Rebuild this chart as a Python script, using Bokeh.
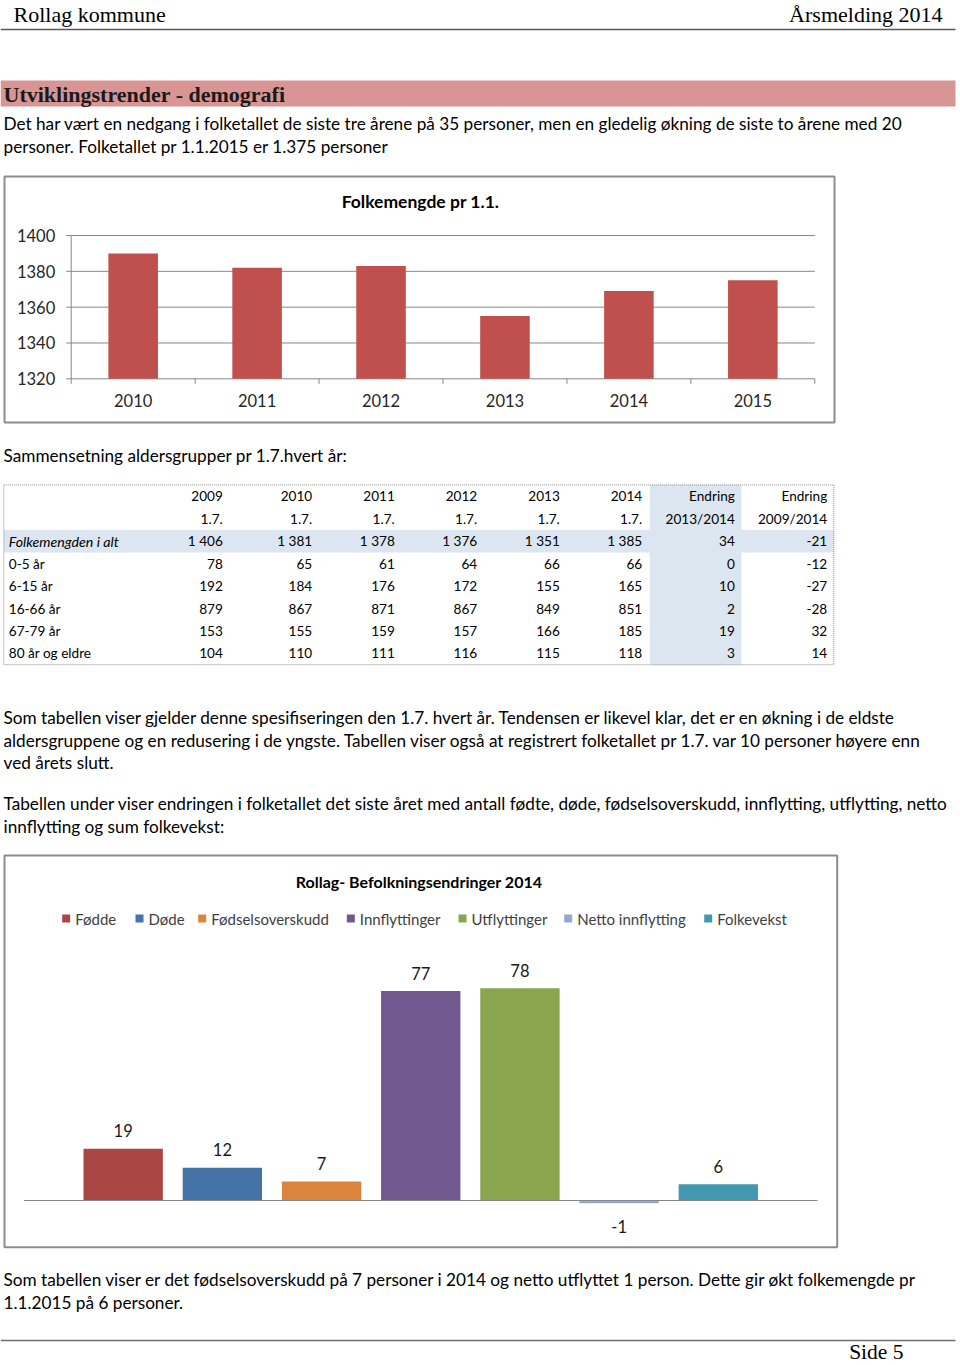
from bokeh.plotting import figure
from bokeh.models import Range1d, ColumnDataSource
from bokeh.core.properties import value
from bokeh.embed import file_html
from bokeh.resources import INLINE

# ---------------- data ----------------
header_left = "Rollag kommune"
header_right = "Årsmelding 2014"
section_title = "Utviklingstrender - demografi"
para1 = ["Det har vært en nedgang i folketallet de siste tre årene på 35 personer, men en gledelig økning de siste to årene med 20",
         "personer. Folketallet pr 1.1.2015 er 1.375 personer"]
table_caption = "Sammensetning aldersgrupper pr 1.7.hvert år:"
para2 = ["Som tabellen viser gjelder denne spesifiseringen den 1.7. hvert år. Tendensen er likevel klar, det er en økning i de eldste",
         "aldersgruppene og en redusering i de yngste. Tabellen viser også at registrert folketallet pr 1.7. var 10 personer høyere enn",
         "ved årets slutt."]
para3 = ["Tabellen under viser endringen i folketallet det siste året med antall fødte, døde, fødselsoverskudd, innflytting, utflytting, netto",
         "innflytting og sum folkevekst:"]
para4 = ["Som tabellen viser er det fødselsoverskudd på 7 personer i 2014 og netto utflyttet 1 person. Dette gir økt folkemengde pr",
         "1.1.2015 på 6 personer."]
footer = "Side 5"

chart1_title = "Folkemengde pr 1.1."
c1_years = [2010, 2011, 2012, 2013, 2014, 2015]
c1_values = [1390, 1382, 1383, 1355, 1369, 1375]
c1_ticks = [1320, 1340, 1360, 1380, 1400]

tbl_head1 = ["2009", "2010", "2011", "2012", "2013", "2014", "Endring", "Endring"]
tbl_head2 = ["1.7.", "1.7.", "1.7.", "1.7.", "1.7.", "1.7.", "2013/2014", "2009/2014"]
tbl_groups = ["Folkemengden i alt", "0-5 år", "6-15 år", "16-66 år", "67-79 år", "80 år og eldre"]
tbl_2009 = [1406, 78, 192, 879, 153, 104]
tbl_2010 = [1381, 65, 184, 867, 155, 110]
tbl_2011 = [1378, 61, 176, 871, 159, 111]
tbl_2012 = [1376, 64, 172, 867, 157, 116]
tbl_2013 = [1351, 66, 155, 849, 166, 115]
tbl_2014 = [1385, 66, 165, 851, 185, 118]
tbl_endr_1314 = [34, 0, 10, 2, 19, 3]
tbl_endr_0914 = [-21, -12, -27, -28, 32, 14]

chart2_title = "Rollag- Befolkningsendringer  2014"
c2_series = ["Fødde", "Døde", "Fødselsoverskudd", "Innflyttinger", "Utflyttinger", "Netto innflytting", "Folkevekst"]
c2_values = [19, 12, 7, 77, 78, -1, 6]

# ---------------- styles / layout ----------------
OFF = 0
W, H = 960, 1365
BODY = value("Lato")
SERIF = value("Liberation Serif")
c1_color = "#C0504D"
c2_colors = ["#AA4643", "#4572A7", "#DB843D", "#71588F", "#89A54E", "#93A9CF", "#4198AF"]
grid_color = "#878787"
box_color = "#8C8C8C"
shade = "#DCE6F1"
LEFT = 3
FS = "17.2px"


def extend(d0, d1, p0, p1, c0, c1):
    k = (d1 - d0) / (p1 - p0)
    return d0 + (c0 - p0) * k, d0 + (c1 - p0) * k


p = figure(width=W, height=H, x_range=Range1d(OFF, OFF + W), y_range=Range1d(OFF + H, OFF),
           output_backend="svg", toolbar_location=None, x_axis_type=None, y_axis_type=None,
           min_border=0, title=None)
p.outline_line_color = None
p.background_fill_color = "white"
p.border_fill_color = "white"


def txt(xs, ys, texts, size, font=BODY, align="left", style="normal", color="#000000", **kw):
    p.text(x=xs, y=ys, text=texts, text_font=font, text_font_size=size, text_align=align,
           text_baseline="middle", text_font_style=style, text_color=color, **kw)


# ---------------- header ----------------
txt([13], [14], [header_left], "22px", font=SERIF)
txt([942], [14], [header_right], "22px", font=SERIF, align="right")
p.segment(x0=[0], x1=[955], y0=[29], y1=[29], line_color="#595959", line_width=1.5)
p.quad(left=[0], right=[955], top=[80], bottom=[106], fill_color="#D99594", line_color=None)
txt([LEFT], [94], [section_title], "22px", font=SERIF, style="bold", color="#1a1a1a")
txt([LEFT] * len(para1), [123 + 22.6 * i for i in range(len(para1))], para1, FS)

# ---------------- chart 1 ----------------
p.quad(left=[4], right=[834], top=[176], bottom=[422], fill_color="white",
       line_color=box_color, line_width=2)
txt([420], [201], [chart1_title], "17.5px", style="bold", align="center")
x0c1, x1c1 = c1_years[0] - 0.5, c1_years[-1] + 0.5
xs, xe = extend(x0c1, x1c1, 70.7, 814.3, OFF, OFF + W)
ys, ye = extend(c1_ticks[0], c1_ticks[-1], 378.3, 235.0, OFF + H, OFF)
p.extra_x_ranges["c1x"] = Range1d(xs, xe)
p.extra_y_ranges["c1y"] = Range1d(ys, ye)
R1 = dict(x_range_name="c1x", y_range_name="c1y")
px_x = (x1c1 - x0c1) / (814.3 - 70.7)
px_y = (c1_ticks[-1] - c1_ticks[0]) / (378.3 - 235.0)
p.segment(x0=[x0c1] * len(c1_ticks), x1=[x1c1] * len(c1_ticks), y0=c1_ticks, y1=c1_ticks,
          line_color=grid_color, line_width=1, **R1)
p.segment(x0=[x0c1], x1=[x0c1], y0=[c1_ticks[0]], y1=[c1_ticks[-1]], line_color=grid_color, **R1)
p.segment(x0=[x0c1 - 5 * px_x] * len(c1_ticks), x1=[x0c1] * len(c1_ticks), y0=c1_ticks, y1=c1_ticks,
          line_color=grid_color, **R1)
bounds = [y - 0.5 for y in c1_years] + [c1_years[-1] + 0.5]
p.segment(x0=bounds, x1=bounds, y0=[c1_ticks[0]] * len(bounds),
          y1=[c1_ticks[0] - 5 * px_y] * len(bounds), line_color=grid_color, **R1)
p.vbar(x=c1_years, top=c1_values, bottom=c1_ticks[0], width=0.4, fill_color=c1_color,
       line_color=None, **R1)
p.text(x=[x0c1] * len(c1_ticks), y=c1_ticks, text=[str(t) for t in c1_ticks], x_offset=-16,
       text_align="right", text_baseline="middle", text_font=BODY, text_font_size="16.5px",
       text_color="#262626", **R1)
p.text(x=c1_years, y=[c1_ticks[0]] * len(c1_years), text=[str(y) for y in c1_years], y_offset=22,
       text_align="center", text_baseline="middle", text_font=BODY, text_font_size="16.5px",
       text_color="#262626", **R1)

# ---------------- table ----------------
txt([LEFT], [455], [table_caption], FS)
col_right = [222.3, 311.7, 394.3, 476.7, 559.3, 641.7, 734.3, 826.7]
row0, rowh = 495.7, 22.47
n_rows = 2 + len(tbl_groups)
t_top, t_bot = row0 - rowh / 2, row0 + rowh * (n_rows - 0.5)
row_y = [row0 + rowh * i for i in range(n_rows)]
t_left, t_right = 3.3, 833.3
p.quad(left=[t_left], right=[t_right], top=[row_y[2] - rowh / 2], bottom=[row_y[2] + rowh / 2],
       fill_color=shade, line_color=None)
p.quad(left=[649.3], right=[741], top=[t_top], bottom=[t_bot], fill_color=shade, line_color=None)
p.quad(left=[t_left], right=[t_right], top=[t_top], bottom=[t_bot], fill_color=None,
       line_color="#8a8a8a", line_width=1, line_dash="1 1")


def fmt(v):
    s = f"{abs(v):,}".replace(",", "\u00a0")
    return ("-" if v < 0 else "") + s


TS = "13.6px"
for j, (h1, h2) in enumerate(zip(tbl_head1, tbl_head2)):
    txt([col_right[j]], [row_y[0]], [h1], TS, align="right")
    txt([col_right[j]], [row_y[1]], [h2], TS, align="right")
cols = [tbl_2009, tbl_2010, tbl_2011, tbl_2012, tbl_2013, tbl_2014, tbl_endr_1314, tbl_endr_0914]
for i, g in enumerate(tbl_groups):
    y = row_y[2 + i]
    txt([8.3], [y], [g], "14.2px" if i == 0 else TS, style="italic" if i == 0 else "normal")
    txt(col_right, [y] * len(cols), [fmt(c[i]) for c in cols], TS, align="right")

# ---------------- text ----------------
txt([LEFT] * len(para2), [717 + 22.6 * i for i in range(len(para2))], para2, FS)
txt([LEFT] * len(para3), [803 + 22.6 * i for i in range(len(para3))], para3, FS)

# ---------------- chart 2 ----------------
p.quad(left=[4], right=[836.7], top=[855], bottom=[1246.7], fill_color="white",
       line_color=box_color, line_width=2)
txt([420.5], [881], [chart2_title], "16px", style="bold", align="center")
leg_text_x = [74.7, 148, 210.7, 359.3, 471, 576.7, 716.7]
p.scatter(x=[t - 9 for t in leg_text_x], y=[918] * len(leg_text_x), marker="square", size=8,
          fill_color=c2_colors, line_color=None)
txt(leg_text_x, [918] * len(leg_text_x), c2_series, "15px", color="#404040")

idx = list(range(len(c2_series)))
xs2, xe2 = extend(-1, len(c2_series), 23.5, 817.0, OFF, OFF + W)
ys2, ye2 = extend(0, 78, 1200.0, 987.8, OFF + H, OFF)
p.extra_x_ranges["c2x"] = Range1d(xs2, xe2)
p.extra_y_ranges["c2y"] = Range1d(ys2, ye2)
R2 = dict(x_range_name="c2x", y_range_name="c2y")
src2 = ColumnDataSource(dict(x=idx, top=c2_values, color=c2_colors,
                             label=[str(v) for v in c2_values],
                             yoff=[-18 if v >= 0 else 23 for v in c2_values]))
p.vbar(x="x", top="top", bottom=0, width=0.8, fill_color="color", line_color=None, source=src2, **R2)
p.segment(x0=[-1], x1=[len(c2_series)], y0=[0], y1=[0], line_color=grid_color, line_width=1, **R2)
p.text(x="x", y="top", text="label", y_offset="yoff", text_align="center", text_baseline="middle",
       text_font=BODY, text_font_size="16.5px", text_color="#1a1a1a", source=src2, **R2)

# ---------------- footer ----------------
txt([LEFT] * len(para4), [1279 + 22.6 * i for i in range(len(para4))], para4, FS)
p.segment(x0=[0], x1=[955], y0=[1340], y1=[1340], line_color="#6e6e6e", line_width=1.5)
txt([903], [1351], [footer], "21.5px", font=SERIF, align="right")

open("out.html", "w").write(file_html(p, INLINE))
